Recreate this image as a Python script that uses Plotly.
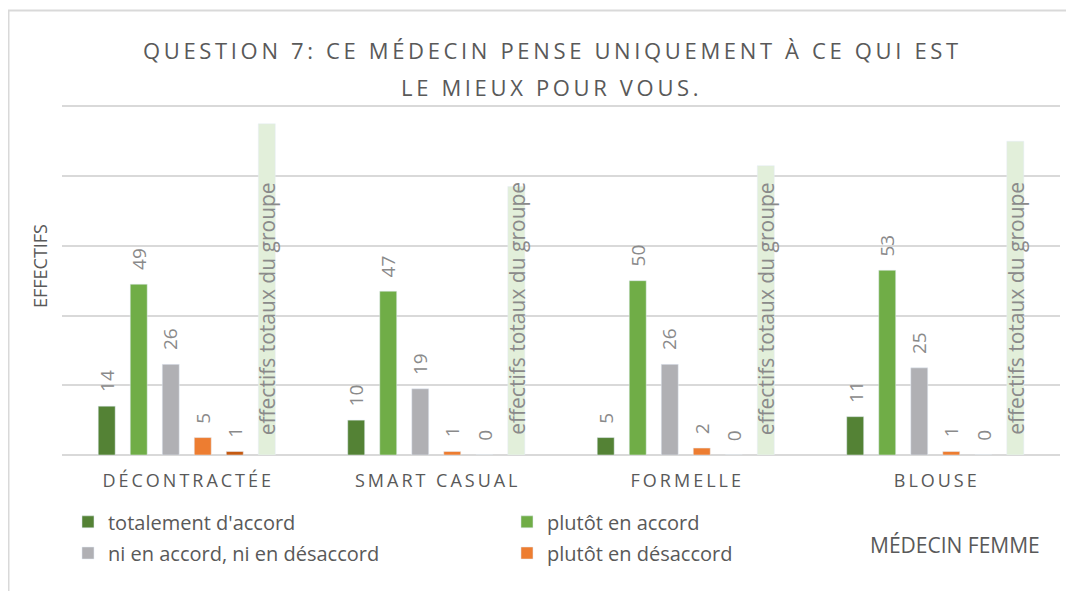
import plotly.graph_objects as go

categories = ["DÉCONTRACTÉE", "SMART CASUAL", "FORMELLE", "BLOUSE"]
totalement = [14, 10, 5, 11]
plutot_accord = [49, 47, 50, 53]
ni_ni = [26, 19, 26, 25]
plutot_desaccord = [5, 1, 2, 1]
pas_du_tout = [1, 0, 0, 0]
effectifs = [95, 77, 83, 90]

def spaced(s, gap="\u2009"):
    return gap.join(list(s))

cat_labels = [spaced(c) for c in categories]

TXT = "#595959"
LBL = "#8a8a8a"
FONT = "Open Sans"

series = [
    ("totalement d'accord", totalement, "#548235", "legend"),
    ("plutôt en accord", plutot_accord, "#70AD47", "legend"),
    ("ni en accord, ni en désaccord", ni_ni, "#B0B0B4", "legend2"),
    ("plutôt en désaccord", plutot_desaccord, "#ED7D31", "legend2"),
    ("pas du tout d'accord", pas_du_tout, "#C55A11", None),
]

PITCH = 32  # pixel distance between bars inside a group
annotations = []
fig = go.Figure()
for k, (name, vals, col, leg) in enumerate(series):
    fig.add_trace(go.Bar(
        x=cat_labels, y=vals, name=name, marker_color=col,
        showlegend=leg is not None, legend=leg or "legend",
        hoverinfo="skip",
    ))
    for c, v in zip(cat_labels, vals):
        annotations.append(dict(
            x=c, y=v, xref="x", yref="y", text=str(v), textangle=-90,
            showarrow=False, yanchor="bottom", xanchor="center",
            xshift=(k - 2.5) * PITCH, yshift=12,
            font=dict(color=LBL, size=19, family=FONT),
        ))
fig.add_trace(go.Bar(
    x=cat_labels, y=effectifs, name="effectifs totaux du groupe",
    marker_color="#E2EFDA", showlegend=False, hoverinfo="skip",
))

for c in cat_labels:
    annotations.append(dict(
        x=c, y=42, xref="x", yref="y", text="effectifs totaux du groupe",
        textangle=-90, showarrow=False, xshift=2.5 * PITCH,
        font=dict(color=LBL, size=21, family=FONT),
    ))

title1 = spaced("QUESTION 7: CE MÉDECIN PENSE UNIQUEMENT À CE QUI EST")
title2 = spaced("LE MIEUX POUR VOUS.")
for t, yy in [(title1, 1.157), (title2, 1.051)]:
    annotations.append(dict(
        text=t, x=0.489, y=yy, xref="paper", yref="paper",
        xanchor="center", yanchor="middle", showarrow=False,
        font=dict(size=22, color=TXT, family=FONT),
    ))

annotations.append(dict(
    text="EFFECTIFS", x=-0.022, y=0.54, xref="paper", yref="paper",
    xanchor="center", yanchor="middle", textangle=-90, showarrow=False,
    font=dict(size=18, color=TXT, family=FONT),
))
annotations.append(dict(
    text="MÉDECIN FEMME", x=0.982, y=-0.257, xref="paper", yref="paper",
    xanchor="right", yanchor="middle", showarrow=False,
    font=dict(size=21, color=TXT, family=FONT),
))

leg_common = dict(orientation="h", x=0.006, xanchor="left", yanchor="middle",
                  entrywidth=394, entrywidthmode="pixels",
                  font=dict(size=20, color=TXT, family=FONT), itemwidth=30,
                  bgcolor="rgba(0,0,0,0)")

fig.update_layout(
    width=1066, height=583,
    margin=dict(l=54, r=14, t=97, b=136),
    paper_bgcolor="white", plot_bgcolor="white",
    barmode="group", bargap=0.23, bargroupgap=0.47,
    font=dict(family=FONT, color=TXT),
    xaxis=dict(showgrid=False, showline=False, ticks="", ticklabelstandoff=13,
               tickfont=dict(size=18, color=TXT, family=FONT)),
    yaxis=dict(range=[0, 100.4], tickvals=[0, 20, 40, 60, 80, 100],
               showticklabels=False,
               gridcolor="#D9D9D9", gridwidth=1.5, zeroline=True,
               zerolinecolor="#D9D9D9", zerolinewidth=1.5),
    legend=dict(y=-0.191, **leg_common),
    legend2=dict(y=-0.28, **leg_common),
    annotations=annotations,
    shapes=[dict(type="rect", xref="paper", yref="paper",
                 x0=-0.0536, x1=1.1, y0=-0.6, y1=1.270,
                 line=dict(color="#D9D9D9", width=2), fillcolor="rgba(0,0,0,0)")],
)

fig.write_html("out.html")
